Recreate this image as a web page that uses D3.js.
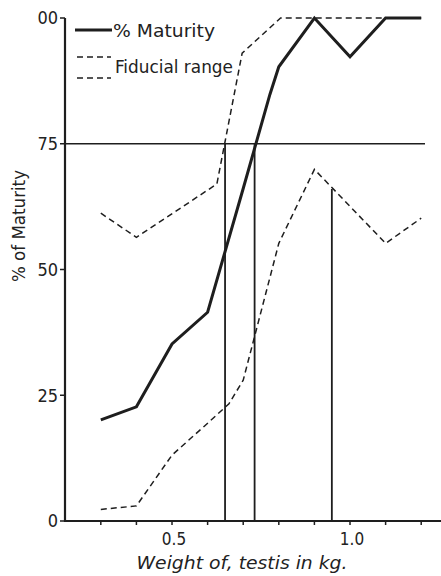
<!DOCTYPE html>
<html><head><meta charset="utf-8">
<script src="https://cdn.jsdelivr.net/npm/d3@7"></script>
<style>
body{margin:0;background:#fff;}
text{font-family:"DejaVu Sans Condensed","Liberation Sans Narrow","DejaVu Sans",sans-serif;font-stretch:condensed;fill:#222;}
</style></head><body>
<svg id="c" width="441" height="576"></svg>
<script>
// ---- data ----
const maturityX = [0.3, 0.4, 0.5, 0.6, 0.7, 0.775, 0.8, 0.9, 1.0, 1.1, 1.2];
const maturityY = [20.1, 22.7, 35.2, 41.5, 66.1, 84.8, 90.3, 100, 92.3, 100, 100];
const upperX = [0.3, 0.4, 0.626, 0.697, 0.805, 0.9, 1.0, 1.1, 1.2];
const upperY = [61.2, 56.4, 67, 93, 100, 100, 100, 100, 100];
const lowerX = [0.3, 0.4, 0.5, 0.59, 0.66, 0.7, 0.8, 0.9, 1.1, 1.2];
const lowerY = [2.3, 3.0, 13.1, 18.8, 23.3, 28, 55.2, 69.9, 55.2, 60.2];
const markerX = [0.649, 0.732, 0.949];
const markerTop = [75, 75, 66];
const refLevel = 75;
const yTicks = [0, 25, 50, 75, 100];
const yTickLabels = ["0", "25", "50", "75", "00"];
const xMinorTicks = [0.3, 0.4, 0.5, 0.6, 0.7, 0.8, 0.9, 1.0, 1.1, 1.2];
const xTickLabels = [{v: 0.5, t: "0.5"}, {v: 1.0, t: "1.0"}];

const svg = d3.select("#c");
const x = d3.scaleLinear().domain([0.1994, 1.2556]).range([65, 441]);
const y = d3.scaleLinear().domain([0, 100]).range([521, 18]);
const ink = "#1e1e1e";
const x0 = x.range()[0];

// reference line at 75
svg.append("line").attr("x1", x0).attr("x2", 425).attr("y1", y(refLevel)).attr("y2", y(refLevel))
  .attr("stroke", ink).attr("stroke-width", 1.5);

// vertical markers
markerX.forEach((m, i) => {
  svg.append("line").attr("x1", x(m)).attr("x2", x(m)).attr("y1", y(0)).attr("y2", y(markerTop[i]))
    .attr("stroke", ink).attr("stroke-width", 1.8);
});

const line = d3.line().x(d => x(d[0])).y(d => y(d[1]));
const zip = (a, b) => a.map((v, i) => [v, b[i]]);

// fiducial range
[zip(upperX, upperY), zip(lowerX, lowerY)].forEach(pts => {
  svg.append("path").attr("d", line(pts)).attr("fill", "none").attr("stroke", ink)
    .attr("stroke-width", 1.5).attr("stroke-dasharray", "6,4");
});
// maturity
svg.append("path").attr("d", line(zip(maturityX, maturityY))).attr("fill", "none")
  .attr("stroke", ink).attr("stroke-width", 3).attr("stroke-linejoin", "miter");

// axes
svg.append("line").attr("x1", x0).attr("x2", x0).attr("y1", y(100)).attr("y2", y(0) + 1)
  .attr("stroke", ink).attr("stroke-width", 2.2);
svg.append("line").attr("x1", x0).attr("x2", 441).attr("y1", y(0)).attr("y2", y(0))
  .attr("stroke", ink).attr("stroke-width", 2.2);

yTicks.forEach((t, i) => {
  svg.append("line").attr("x1", x0 - 5).attr("x2", x0).attr("y1", y(t)).attr("y2", y(t))
    .attr("stroke", ink).attr("stroke-width", 1.5);
  svg.append("text").attr("x", x0 - 7).attr("y", y(t)).attr("dy", "0.36em")
    .attr("text-anchor", "end").attr("font-size", 18).text(yTickLabels[i]);
});
xMinorTicks.forEach(t => {
  svg.append("line").attr("x1", x(t)).attr("x2", x(t)).attr("y1", y(0)).attr("y2", y(0) + 4)
    .attr("stroke", ink).attr("stroke-width", 1.5);
});
xTickLabels.forEach(d => {
  svg.append("text").attr("x", x(d.v) + 2).attr("y", 545).attr("text-anchor", "middle")
    .attr("font-size", 17).text(d.t);
});

svg.append("text").attr("x", 242).attr("y", 569).attr("text-anchor", "middle")
  .attr("font-size", 18).attr("font-style", "italic")
  .attr("textLength", 211).attr("lengthAdjust", "spacingAndGlyphs").text("Weight of, testis in kg.");
svg.append("text").attr("transform", "translate(25,226) rotate(-90)").attr("text-anchor", "middle")
  .attr("font-size", 18).attr("textLength", 112).attr("lengthAdjust", "spacingAndGlyphs").text("% of Maturity");

// legend
svg.append("line").attr("x1", 75).attr("x2", 112).attr("y1", 30).attr("y2", 30)
  .attr("stroke", ink).attr("stroke-width", 3);
svg.append("text").attr("x", 113).attr("y", 37).attr("font-size", 18)
  .attr("textLength", 102).attr("lengthAdjust", "spacingAndGlyphs").text("% Maturity");
[57, 78].forEach(yy => {
  svg.append("line").attr("x1", 77).attr("x2", 111).attr("y1", yy).attr("y2", yy)
    .attr("stroke", ink).attr("stroke-width", 1.5).attr("stroke-dasharray", "6,4");
});
svg.append("text").attr("x", 115).attr("y", 73).attr("font-size", 18)
  .attr("textLength", 118).attr("lengthAdjust", "spacingAndGlyphs").text("Fiducial range");
</script></body></html>
